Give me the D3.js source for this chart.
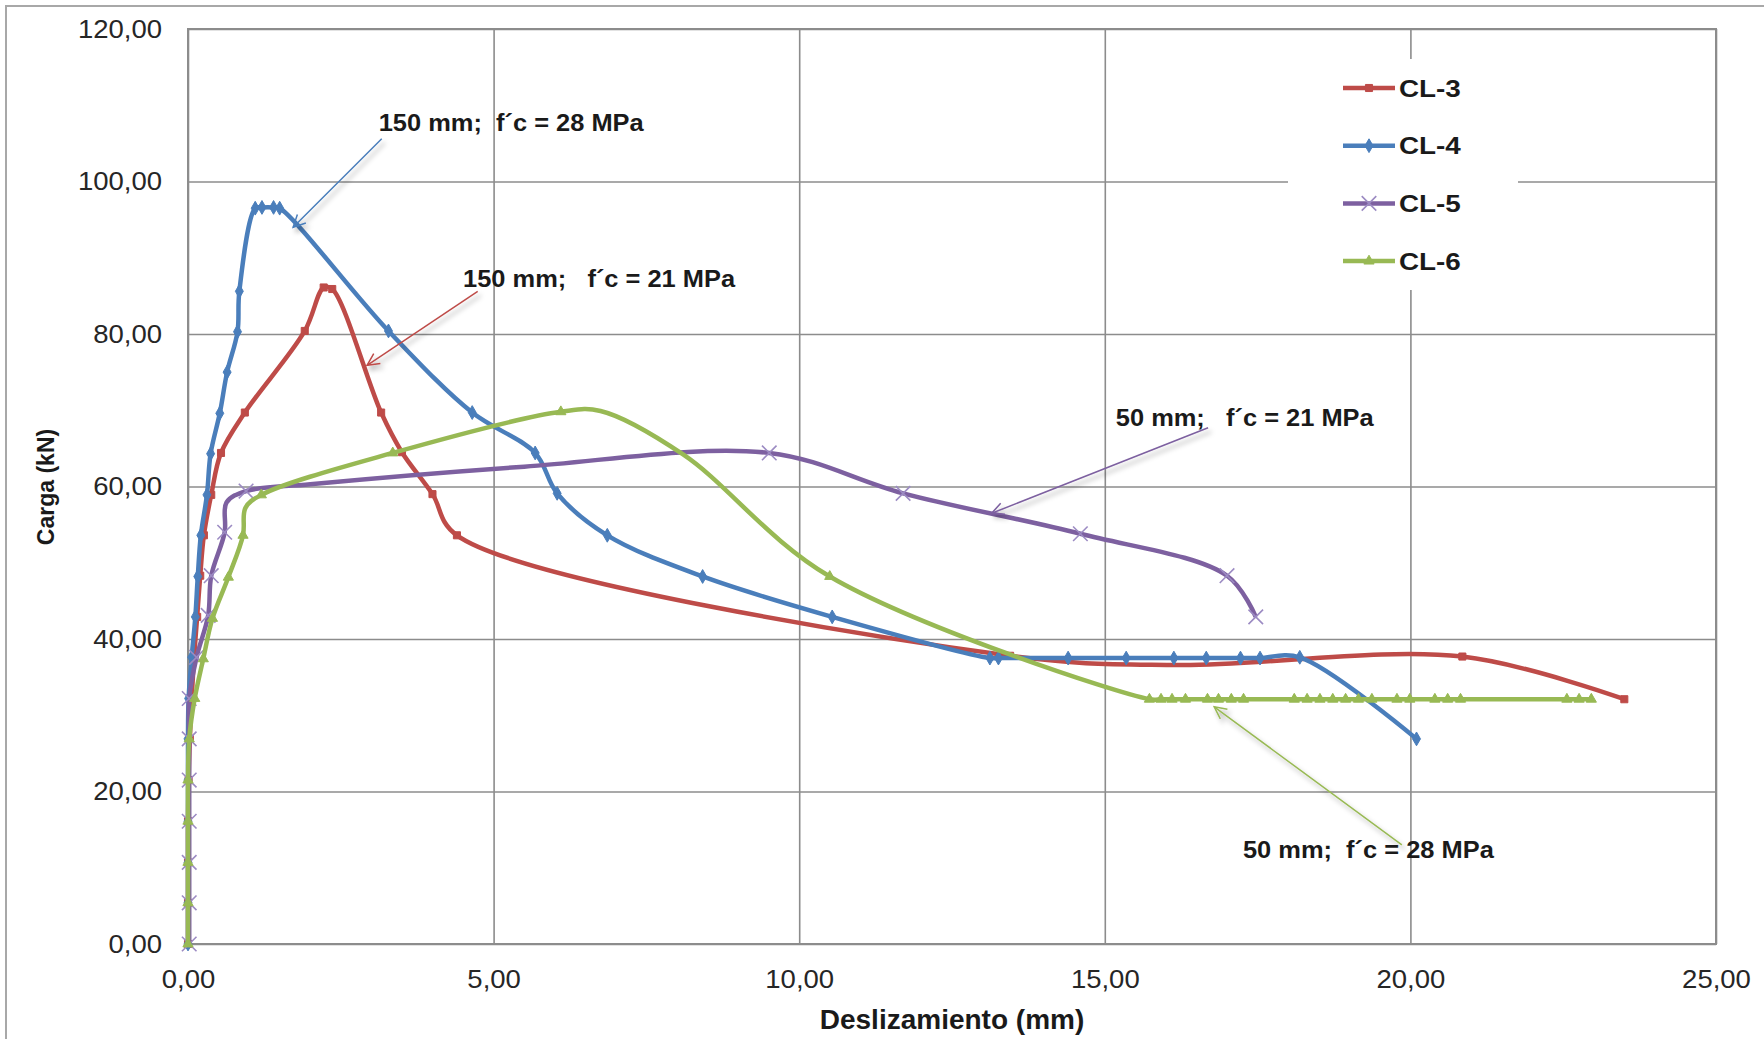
<!DOCTYPE html>
<html>
<head>
<meta charset="utf-8">
<script src="https://cdn.jsdelivr.net/npm/d3@7"></script>
<style>
  body { margin: 0; background: #fff; }
  text { font-family: "Liberation Sans", Arial, sans-serif; }
</style>
</head>
<body>
<div id="chart"></div>
<script>
// Series names (legend order)
const SERIES_NAMES = ['CL-3', 'CL-4', 'CL-5', 'CL-6'];

// Deslizamiento (mm), Carga (kN); a third value of 0 = point drawn without a marker
const cl3 = [
  [0, 0], [0, 5.4], [0, 10.7], [0, 16.1], [0.01, 21.5], [0.03, 26.9], [0.06, 32.2],
  [0.1, 37.6], [0.15, 42.9], [0.2, 48.3], [0.26, 53.6], [0.38, 58.9], [0.54, 64.4],
  [0.93, 69.7], [1.91, 80.4], [2.22, 86.1], [2.36, 85.9], [3.16, 69.7], [3.5, 64.5],
  [4.0, 59.0], [4.4, 53.6], [13.45, 37.8], [16.2, 36.6, 0], [20.85, 37.7], [23.5, 32.1]
];
const cl4 = [
  [0, 0], [0, 5.4], [0, 10.7], [0, 16.1], [0, 21.5], [0, 26.9], [0.01, 32.2],
  [0.06, 37.6], [0.12, 42.9], [0.16, 48.2], [0.21, 53.6], [0.31, 58.9], [0.37, 64.3],
  [0.52, 69.6], [0.64, 75.0], [0.81, 80.3], [0.84, 85.6], [1.1, 96.5], [1.21, 96.6],
  [1.4, 96.6], [1.5, 96.5], [3.28, 80.4], [4.65, 69.7], [5.68, 64.4], [6.04, 59.1],
  [6.86, 53.6], [8.42, 48.2], [10.54, 42.9], [13.12, 37.5], [13.26, 37.5], [14.4, 37.5],
  [15.35, 37.5], [16.13, 37.5], [16.66, 37.5], [17.22, 37.5], [17.54, 37.5],
  [18.19, 37.6], [20.1, 26.9]
];
const cl5 = [
  [0.02, 0], [0.02, 5.4], [0.02, 10.7], [0.02, 16.1], [0.02, 21.5], [0.02, 26.9],
  [0.02, 32.2], [0.14, 37.6], [0.33, 43.1], [0.38, 48.3], [0.6, 54.0], [0.63, 57.9, 0],
  [0.95, 59.4], [2.0, 60.3, 0], [5.5, 62.6, 0], [9.51, 64.4], [11.7, 59.1], [14.6, 53.8],
  [17.0, 48.3], [17.47, 42.9]
];
const cl6 = [
  [0, 0], [0, 5.4], [0, 10.7], [0, 16.1], [0, 21.5], [0.02, 26.9], [0.11, 32.2],
  [0.25, 37.4], [0.4, 42.7], [0.66, 48.1], [0.9, 53.6], [0.94, 57.2, 0], [1.2, 58.9],
  [3.35, 64.4], [6.1, 69.8], [6.75, 69.9, 0], [8.1, 64.2, 0], [10.5, 48.2], [15.73, 32.1],
  [15.92, 32.1], [16.1, 32.1], [16.32, 32.1], [16.68, 32.1], [16.86, 32.1], [17.07, 32.1],
  [17.27, 32.1], [18.1, 32.1], [18.31, 32.1], [18.52, 32.1], [18.73, 32.1], [18.94, 32.1],
  [19.15, 32.1], [19.37, 32.1], [19.78, 32.1], [19.99, 32.1], [20.4, 32.1], [20.61, 32.1],
  [20.82, 32.1], [22.56, 32.1], [22.76, 32.1], [22.96, 32.1]
];

// Axis ticks
const X_TICKS = [0, 5, 10, 15, 20, 25];
const Y_TICKS = [0, 20, 40, 60, 80, 100, 120];

// Callout texts with arrows (data units): text start, arrow start, arrow end
const NOTE_LABELS = ['150 mm;  f´c = 28 MPa', '150 mm;   f´c = 21 MPa', '50 mm;   f´c = 21 MPa', '50 mm;  f´c = 28 MPa'];
const NOTE_SERIES = [1, 0, 2, 3];
const NOTE_TEXT_AT = [[3.12, 106.6], [4.5, 86.2], [15.18, 67.9], [17.26, 11.3]];
const NOTE_ARROW_FROM = [[3.17, 105.6], [4.74, 85.6], [16.69, 67.7], [19.86, 13.0]];
const NOTE_ARROW_TO = [[1.72, 94.0], [2.93, 75.9], [13.15, 56.5], [16.79, 31.1]];

// Dimensions
const WIDTH = 1764;
const HEIGHT = 1039;
const MARGIN = { top: 29, right: 48, bottom: 95, left: 188 };
const PW = WIDTH - MARGIN.left - MARGIN.right;
const PH = HEIGHT - MARGIN.top - MARGIN.bottom;

const COLORS = ['#be4b48', '#4a7ebb', '#7d60a0', '#98b954'];
const SYMBOLS = [d3.symbolSquare, d3.symbolDiamond, d3.symbolTimes, d3.symbolTriangle];
const SYMBOL_SIZES = [50, 55, 140, 45];
const seriesData = [cl3, cl4, cl5, cl6];

// the source picture has slightly wide lettering
const TICK_STRETCH = 1.1;
const NOTE_STRETCH = 1.06;
const LEGEND_STRETCH = 1.16;

const fmt = d3.formatLocale({ decimal: ',', thousands: '.', grouping: [3], currency: ['', ''] }).format('.2f');

const svg = d3.select('#chart')
  .append('svg')
  .attr('width', WIDTH)
  .attr('height', HEIGHT);

// drop shadow for callout arrows
const defs = svg.append('defs');
defs.append('filter')
  .attr('id', 'shadow')
  .attr('x', '-20%').attr('y', '-20%').attr('width', '140%').attr('height', '140%')
  .append('feDropShadow')
  .attr('dx', 3).attr('dy', 4)
  .attr('stdDeviation', 2.5)
  .attr('flood-color', '#000')
  .attr('flood-opacity', 0.35);

COLORS.forEach((c, i) => {
  defs.append('marker')
    .attr('id', 'arrow' + i)
    .attr('markerUnits', 'userSpaceOnUse')
    .attr('markerWidth', 16).attr('markerHeight', 16)
    .attr('refX', 13).attr('refY', 7)
    .attr('orient', 'auto')
    .append('path')
    .attr('d', 'M1,1 L13,7 L1,13')
    .attr('fill', 'none')
    .attr('stroke', c)
    .attr('stroke-width', 1.5);
});

// outer chart border
svg.append('rect')
  .attr('x', 6).attr('y', 6)
  .attr('width', WIDTH).attr('height', HEIGHT)
  .attr('fill', 'none')
  .attr('stroke', '#a8a8a8')
  .attr('stroke-width', 2);

const g = svg.append('g').attr('transform', `translate(${MARGIN.left},${MARGIN.top})`);

const x = d3.scaleLinear().domain([0, 25]).range([0, PW]);
const y = d3.scaleLinear().domain([0, 120]).range([PH, 0]);

// axes + gridlines
const xAxis = g.append('g')
  .attr('transform', `translate(0,${PH})`)
  .call(d3.axisBottom(x).tickValues(X_TICKS).tickSize(-PH).tickPadding(26).tickFormat(fmt));
const yAxis = g.append('g')
  .call(d3.axisLeft(y).tickValues(Y_TICKS).tickSize(-PW).tickPadding(26).tickFormat(fmt));

[xAxis, yAxis].forEach(a => {
  a.select('.domain').remove();
  a.selectAll('line').attr('stroke', '#8c8c8c').attr('stroke-width', 1.6);
  a.selectAll('text')
    .attr('fill', '#262626')
    .style('font-size', '25px')
    .attr('x', function () { return (+d3.select(this).attr('x') || 0) / TICK_STRETCH; })
    .attr('transform', `scale(${TICK_STRETCH},1)`);
});

g.append('rect')
  .attr('width', PW).attr('height', PH)
  .attr('fill', 'none')
  .attr('stroke', '#8c8c8c')
  .attr('stroke-width', 2);

// axis titles
svg.append('text')
  .attr('transform', 'translate(46,487) rotate(-90)')
  .attr('text-anchor', 'middle')
  .attr('dy', '0.35em')
  .style('font-size', '23px')
  .style('font-weight', 'bold')
  .attr('fill', '#1a1a1a')
  .text('Carga (kN)');

svg.append('text')
  .attr('x', MARGIN.left + PW / 2)
  .attr('y', 1029)
  .attr('text-anchor', 'middle')
  .style('font-size', '28px')
  .style('font-weight', 'bold')
  .attr('fill', '#1a1a1a')
  .text('Deslizamiento (mm)');

// series
const line = d3.line()
  .x(d => x(d[0]))
  .y(d => y(d[1]))
  .curve(d3.curveCatmullRom.alpha(0.5));

function drawMarker(sel, i) {
  if (i === 2) {
    sel.attr('fill', 'none').attr('stroke', '#9c8bc3').attr('stroke-width', 1.6);
  } else {
    sel.attr('fill', COLORS[i]).attr('stroke', COLORS[i]).attr('stroke-width', 1);
  }
}

seriesData.forEach((data, i) => {
  const sg = g.append('g');
  sg.append('path')
    .datum(data)
    .attr('d', line)
    .attr('fill', 'none')
    .attr('stroke', COLORS[i])
    .attr('stroke-width', 4.5)
    .attr('stroke-linejoin', 'round');
  sg.selectAll('path.pt')
    .data(data.filter(d => d[2] !== 0))
    .enter()
    .append('path')
    .attr('class', 'pt')
    .attr('transform', d => `translate(${x(d[0])},${y(d[1])})`)
    .attr('d', d3.symbol().type(SYMBOLS[i]).size(SYMBOL_SIZES[i]))
    .call(drawMarker, i);
});

// callouts
const notes = g.selectAll('g.note')
  .data(NOTE_LABELS)
  .enter()
  .append('g')
  .attr('class', 'note');

notes.append('line')
  .attr('x1', (d, i) => x(NOTE_ARROW_FROM[i][0]))
  .attr('y1', (d, i) => y(NOTE_ARROW_FROM[i][1]))
  .attr('x2', (d, i) => x(NOTE_ARROW_TO[i][0]))
  .attr('y2', (d, i) => y(NOTE_ARROW_TO[i][1]))
  .attr('stroke', (d, i) => COLORS[NOTE_SERIES[i]])
  .attr('stroke-width', 1.5)
  .attr('marker-end', (d, i) => `url(#arrow${NOTE_SERIES[i]})`)
  .attr('filter', 'url(#shadow)');

notes.append('text')
  .attr('transform', (d, i) =>
    `translate(${x(NOTE_TEXT_AT[i][0])},${y(NOTE_TEXT_AT[i][1])}) scale(${NOTE_STRETCH},1)`)
  .style('font-size', '24px')
  .style('font-weight', 'bold')
  .style('white-space', 'pre')
  .attr('fill', '#1a1a1a')
  .text(d => d);

// legend
const legend = svg.append('g')
  .attr('transform', 'translate(1288,59)');

legend.append('rect')
  .attr('width', 230)
  .attr('height', 231)
  .attr('fill', '#fff');

const items = legend.selectAll('g.item')
  .data(SERIES_NAMES)
  .enter()
  .append('g')
  .attr('class', 'item')
  .attr('transform', (d, i) => `translate(0,${29 + i * 57.7})`);

items.append('line')
  .attr('x1', 55).attr('x2', 107)
  .attr('stroke', (d, i) => COLORS[i])
  .attr('stroke-width', 4.5);

items.append('path')
  .attr('transform', 'translate(81,0)')
  .attr('d', (d, i) => d3.symbol().type(SYMBOLS[i]).size(SYMBOL_SIZES[i])())
  .each(function (d, i) { drawMarker(d3.select(this), i); });

items.append('text')
  .attr('transform', `translate(111,0) scale(${LEGEND_STRETCH},1)`)
  .attr('dy', '0.36em')
  .style('font-size', '24px')
  .style('font-weight', 'bold')
  .attr('fill', '#1a1a1a')
  .text(d => d);
</script>
</body>
</html>
